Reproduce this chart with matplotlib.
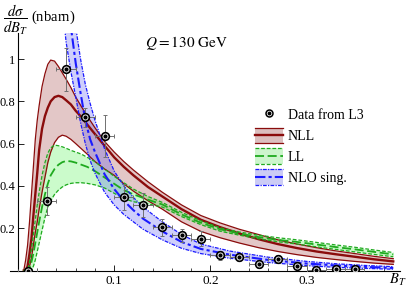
import matplotlib
matplotlib.use("Agg")
import matplotlib.pyplot as plt
from matplotlib.legend_handler import HandlerBase, HandlerTuple
from matplotlib.lines import Line2D
from matplotlib.patches import Rectangle
from matplotlib.ticker import MultipleLocator, FixedLocator

plt.rcParams["font.family"] = ["Liberation Serif", "DejaVu Serif"]
plt.rcParams["mathtext.fontset"] = "stix"

# L3 data, Q = 130 GeV
bt_data = [0.01, 0.03, 0.05, 0.07, 0.09, 0.11, 0.13, 0.15, 0.17, 0.19,
           0.21, 0.23, 0.25, 0.27, 0.29, 0.31, 0.33, 0.35]
xs_data = [0.0, 0.329, 0.951, 0.724, 0.636, 0.347, 0.31, 0.204, 0.166, 0.15,
           0.072, 0.065, 0.031, 0.054, 0.023, 0.002, 0.006, 0.008]
err_data = [0.005, 0.066, 0.1, 0.045, 0.1, 0.062, 0.055, 0.04, 0.03, 0.035,
            0.02, 0.02, 0.02, 0.02, 0.015, 0.01, 0.01, 0.01]
bin_half = 0.01

# resummed curves (NLL and LL), central value and scale band
bt_res = [0.006, 0.008, 0.01, 0.012, 0.014, 0.016, 0.018, 0.02, 0.022, 0.025,
          0.028, 0.031, 0.034, 0.038, 0.042, 0.046, 0.05, 0.055, 0.06, 0.066,
          0.072, 0.08, 0.09, 0.1, 0.11, 0.12, 0.135, 0.15, 0.17, 0.19,
          0.21, 0.23, 0.25, 0.27, 0.29, 0.31, 0.33, 0.35, 0.37, 0.39]
nll_hi = [0.0, 0.05, 0.12, 0.23, 0.36, 0.49, 0.62, 0.71, 0.78, 0.87,
          0.93, 0.975, 0.995, 0.99, 0.965, 0.935, 0.905, 0.865, 0.82, 0.774,
          0.73, 0.675, 0.61, 0.56, 0.515, 0.475, 0.42, 0.37, 0.31, 0.26,
          0.225, 0.195, 0.17, 0.145, 0.125, 0.108, 0.093, 0.08, 0.067, 0.056]
nll = [0.0, 0.0, 0.02, 0.08, 0.15, 0.26, 0.36, 0.46, 0.57, 0.67,
       0.73, 0.77, 0.8, 0.82, 0.826, 0.82, 0.805, 0.785, 0.755, 0.725,
       0.69, 0.645, 0.59, 0.535, 0.49, 0.45, 0.395, 0.35, 0.29, 0.24,
       0.205, 0.175, 0.148, 0.125, 0.106, 0.09, 0.077, 0.065, 0.053, 0.043]
nll_lo = [0.0, 0.0, 0.0, 0.02, 0.06, 0.12, 0.18, 0.23, 0.29, 0.37,
          0.44, 0.51, 0.56, 0.605, 0.63, 0.64, 0.635, 0.62, 0.6, 0.575,
          0.55, 0.515, 0.48, 0.45, 0.41, 0.375, 0.33, 0.29, 0.23, 0.185,
          0.155, 0.13, 0.108, 0.09, 0.075, 0.062, 0.052, 0.043, 0.035, 0.029]
ll_hi = [0.0, 0.0, 0.0, 0.04, 0.1, 0.17, 0.24, 0.31, 0.37, 0.45,
         0.51, 0.555, 0.58, 0.593, 0.59, 0.585, 0.578, 0.568, 0.56, 0.55,
         0.535, 0.515, 0.48, 0.445, 0.415, 0.385, 0.35, 0.322, 0.275, 0.235,
         0.202, 0.182, 0.167, 0.155, 0.145, 0.133, 0.121, 0.11, 0.097, 0.085]
ll = [0.0, 0.0, 0.0, 0.01, 0.04, 0.08, 0.13, 0.18, 0.23, 0.3,
      0.36, 0.41, 0.45, 0.48, 0.5, 0.512, 0.518, 0.516, 0.51, 0.5,
      0.49, 0.47, 0.44, 0.41, 0.38, 0.36, 0.335, 0.312, 0.265, 0.226,
      0.195, 0.175, 0.158, 0.145, 0.135, 0.123, 0.111, 0.1, 0.088, 0.076]
ll_lo = [0.0, 0.0, 0.0, 0.0, 0.0, 0.02, 0.05, 0.09, 0.13, 0.19,
         0.25, 0.3, 0.33, 0.36, 0.38, 0.395, 0.405, 0.412, 0.415, 0.415,
         0.412, 0.405, 0.39, 0.365, 0.34, 0.325, 0.315, 0.3, 0.255, 0.217,
         0.186, 0.167, 0.15, 0.136, 0.125, 0.112, 0.1, 0.088, 0.076, 0.065]

# fixed-order singular terms
bt_nlo = [0.045, 0.05, 0.055, 0.06, 0.065, 0.07, 0.075, 0.08, 0.09, 0.1,
          0.11, 0.12, 0.13, 0.15, 0.17, 0.19, 0.22, 0.26, 0.3, 0.33, 0.36, 0.39]
nlo_hi = [2.2, 1.75, 1.4, 1.15, 1.0, 0.88, 0.79, 0.71, 0.575, 0.47,
          0.4, 0.345, 0.3, 0.23, 0.17, 0.125, 0.092, 0.063, 0.043, 0.032, 0.024, 0.018]
nlo = [1.8, 1.45, 1.15, 0.98, 0.84, 0.71, 0.62, 0.56, 0.455, 0.385,
       0.33, 0.285, 0.245, 0.185, 0.135, 0.102, 0.075, 0.05, 0.033, 0.024, 0.017, 0.012]
nlo_lo = [1.3, 1.08, 0.94, 0.82, 0.7, 0.6, 0.52, 0.46, 0.37, 0.31,
          0.265, 0.23, 0.195, 0.145, 0.105, 0.08, 0.058, 0.038, 0.023, 0.015, 0.01, 0.006]

red = "#8a0c0c"
green = "#1faa1f"
blue = "#1a1aff"
dash_edge = (0, (3, 1.5))
dash_mid = (0, (5, 2))
dd_edge = (0, (3, 1, 1, 1))
dd_mid = (0, (5, 1.5, 1.5, 1.5))


class BandHandler(HandlerBase):
    def __init__(self, fc, lc, edge_ls, mid_ls, mid_lw):
        super().__init__()
        self.fc, self.lc = fc, lc
        self.edge_ls, self.mid_ls, self.mid_lw = edge_ls, mid_ls, mid_lw

    def create_artists(self, legend, orig_handle, xdescent, ydescent,
                       width, height, fontsize, trans):
        x0, y0 = -xdescent, -ydescent - 1
        h = height + 2
        rect = Rectangle((x0, y0), width, h, facecolor=self.fc,
                         edgecolor="none", transform=trans)
        arts = [rect]
        for yy, ls, lw in [(y0, self.edge_ls, 0.9), (y0 + h, self.edge_ls, 0.9),
                           (y0 + h / 2, self.mid_ls, self.mid_lw)]:
            arts.append(Line2D([x0, x0 + width], [yy, yy], color=self.lc,
                               linestyle=ls, linewidth=lw, transform=trans))
        return arts


fig = plt.figure(figsize=(4.07, 2.88), dpi=100)
ax = fig.add_axes([10 / 407, 17.5 / 288, 390 / 407, 237.5 / 288])

# bands
ax.fill_between(bt_res, nll_lo, nll_hi, color=(0.6, 0.2, 0.2), alpha=0.27, lw=0)
ax.fill_between(bt_res, ll_lo, ll_hi, color=(0.2, 0.95, 0.2), alpha=0.25, lw=0)
ax.fill_between(bt_nlo, nlo_lo, nlo_hi, color=(0.25, 0.25, 0.95), alpha=0.25, lw=0)

ax.plot(bt_res, nll_hi, color=red, lw=0.9)
ax.plot(bt_res, nll_lo, color=red, lw=0.9)
ax.plot(bt_res, nll, color=red, lw=1.7)
ax.plot(bt_res, ll_hi, color=green, lw=0.9, ls=dash_edge)
ax.plot(bt_res, ll_lo, color=green, lw=0.9, ls=dash_edge)
ax.plot(bt_res, ll, color=green, lw=1.3, ls=dash_mid)
ax.plot(bt_nlo, nlo_hi, color=blue, lw=0.9, ls=dd_edge)
ax.plot(bt_nlo, nlo_lo, color=blue, lw=0.9, ls=dd_edge)
ax.plot(bt_nlo, nlo, color=blue, lw=1.5, ls=dd_mid)

# data
ax.errorbar(bt_data, xs_data, yerr=err_data, xerr=bin_half, fmt="none",
            ecolor="#707070", elinewidth=0.7, capsize=1.5, capthick=0.7, zorder=4)
ax.plot(bt_data, xs_data, ls="none", marker="o", ms=5.5, mfc="white",
        mec="black", mew=1.2, zorder=5)
ax.plot(bt_data, xs_data, ls="none", marker="o", ms=2, color="black", zorder=6)

ax.set_xlim(-0.0083, 0.397)
ax.set_ylim(0, 1.123)
for s in ["top", "right"]:
    ax.spines[s].set_visible(False)
ax.spines["left"].set_position(("data", 0))
ax.spines["bottom"].set_position(("data", 0))
ax.spines["left"].set_linewidth(0.8)
ax.spines["bottom"].set_linewidth(0.8)
ax.patch.set_visible(False)

ax.xaxis.set_major_locator(FixedLocator([0.1, 0.2, 0.3]))
ax.xaxis.set_minor_locator(MultipleLocator(0.02))
ax.yaxis.set_major_locator(FixedLocator([0.2, 0.4, 0.6, 0.8, 1.0]))
ax.set_xticklabels(["0.1", "0.2", "0.3"])
ax.set_yticklabels(["0.2", "0.4", "0.6", "0.8", "1"])
ax.tick_params(which="major", direction="in", length=4, width=0.6)
ax.tick_params(axis="x", labelsize=9.5, pad=3)
ax.tick_params(axis="y", labelsize=9, pad=2)
ax.tick_params(which="minor", direction="in", length=2, width=0.5)

fig.text(3 / 407, 1 - 2 / 288, r"$\dfrac{d\sigma}{dB_T}$ (nbarn)", fontsize=10.5,
         ha="left", va="top")
fig.text(145 / 407, 1 - 43 / 288, r"$Q = 130\ \mathrm{GeV}$", fontsize=11,
         ha="left", va="center")
ax.text(0.386, -0.045, r"$B_T$", fontsize=10.5, ha="left", va="center", clip_on=False)

# legend
h_data = (Line2D([], [], ls="none", marker="o", ms=5, mfc="white", mec="black", mew=1.1),
          Line2D([], [], ls="none", marker="o", ms=1.8, color="black"))
h_nll = Line2D([], [])
h_ll = Line2D([], [])
h_nlo = Line2D([], [])
hmap = {
    tuple: HandlerTuple(ndivide=1),
    h_nll: BandHandler((0.86, 0.75, 0.75), red, "-", "-", 1.7),
    h_ll: BandHandler((0.8, 0.96, 0.8), green, dash_edge, dash_mid, 1.3),
    h_nlo: BandHandler((0.8, 0.8, 0.96), blue, dd_edge, dd_mid, 1.5),
}
ax.legend([h_data, h_nll, h_ll, h_nlo], ["Data from L3", "NLL", "LL", "NLO sing."],
          handler_map=hmap, loc="upper left", bbox_to_anchor=(255 / 407, 1 - 108 / 288),
          bbox_transform=fig.transFigure, frameon=False, fontsize=10,
          handlelength=2.0, handleheight=1.0, handletextpad=0.35,
          labelspacing=0.5, borderpad=0, borderaxespad=0)

fig.savefig("out.png", dpi=100)
